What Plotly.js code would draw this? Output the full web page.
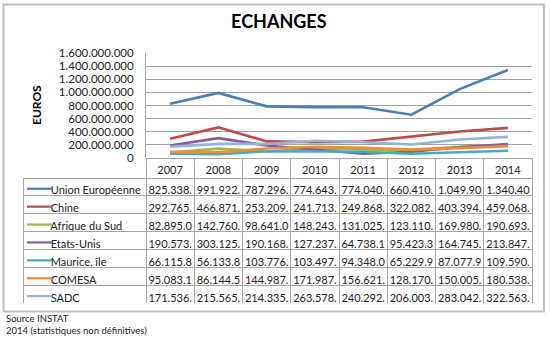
<!DOCTYPE html>
<html>
<head>
<meta charset="utf-8">
<script src="https://cdn.plot.ly/plotly-3.0.1.min.js"></script>
<style>
  html, body { margin: 0; padding: 0; background: #fff; }
  #chart { width: 550px; height: 340px; }
</style>
</head>
<body>
<div id="chart"></div>
<script>
// Categories
const years = ['2007', '2008', '2009', '2010', '2011', '2012', '2013', '2014'];

// Series names
const seriesNames = ['Union Européenne', 'Chine', 'Afrique du Sud', 'Etats-Unis', 'Maurice, île', 'COMESA', 'SADC'];

// Series values (euros)
const unionEuropeenne = [825338000, 991922000, 787296000, 774643000, 774040000, 660410000, 1049900000, 1340400000];
const chine           = [292765000, 466871000, 253209000, 241713000, 249868000, 322082000, 403394000, 459068000];
const afriqueDuSud    = [82895000, 142760000, 98641000, 148243000, 131025000, 123110000, 169980000, 190693000];
const etatsUnis       = [190573000, 303125000, 190168000, 127237000, 64738100, 95423300, 164745000, 213847000];
const maurice         = [66115800, 56133800, 103776000, 103497000, 94348000, 65229900, 87077900, 109590000];
const comesa          = [95083100, 86144500, 144987000, 171987000, 156621000, 128170000, 150005000, 180538000];
const sadc            = [171536000, 215565000, 214335000, 263578000, 240292000, 206003000, 283042000, 322563000];

const seriesValues = [unionEuropeenne, chine, afriqueDuSud, etatsUnis, maurice, comesa, sadc];
const seriesColors = ['#4A7EBB', '#BE4B48', '#98B954', '#7D60A0', '#46AAC5', '#F38A34', '#95B3D7'];

// Excel-like truncated display of numbers in table cells
function fmtCell(v) {
  const s = Math.round(v).toString().replace(/\B(?=(\d{3})+(?!\d))/g, '.');
  return s.slice(0, 8);
}

// Layout constants (pixels)
const W = 550, H = 340;
const M = { l: 23, r: 18, t: 53, b: 37 };
const PW = W - M.l - M.r, PH = H - M.t - M.b;
const headerH = 20, rowH = 17.9;
const tableTopPx = 158;
const px2x = px => (px - M.l) / PW;
const px2y = py => (H - M.b - py) / PH;

const traces = seriesValues.map((vals, i) => ({
  type: 'scatter',
  mode: 'lines',
  x: years,
  y: vals,
  name: seriesNames[i],
  line: { color: seriesColors[i], width: 2.6 },
  hoverinfo: 'skip',
  showlegend: false
}));

// Table: first column legend labels, then one column per year
const NB = '\u00A0';
const firstCol = seriesNames.map(n => NB.repeat(7) + n.split(' ').join(NB));
const yearCols = years.map((y, j) => seriesValues.map(vals => fmtCell(vals[j])));

traces.push({
  type: 'table',
  domain: { x: [0, 1], y: [0, px2y(tableTopPx)] },
  columnwidth: [123].concat(years.map(() => 48.25)),
  header: {
    values: [''].concat(years),
    height: headerH,
    align: 'center',
    line: { color: ['rgba(0,0,0,0)'].concat(years.map(() => '#A6A6A6')), width: 1 },
    fill: { color: 'rgba(0,0,0,0)' },
    font: { family: 'Lato, sans-serif', size: 11, color: '#222' }
  },
  cells: {
    values: [firstCol].concat(yearCols),
    height: rowH,
    align: ['left'].concat(years.map(() => 'center')),
    line: { color: '#A6A6A6', width: 1 },
    fill: { color: 'rgba(0,0,0,0)' },
    font: { family: 'Lato, sans-serif', size: 11, color: '#222' }
  }
});

// legend keys drawn inside the first table column
const legendShapes = seriesColors.map((c, i) => {
  const yc = tableTopPx + headerH + rowH * (i + 0.5) + 1.8;
  return {
    type: 'line', xref: 'paper', yref: 'paper',
    x0: px2x(27), x1: px2x(52), y0: px2y(yc), y1: px2y(yc),
    line: { color: c, width: 2.2 }
  };
});

const layout = {
  width: W,
  height: H,
  margin: { l: M.l, r: M.r, t: M.t, b: M.b, pad: 0 },
  paper_bgcolor: '#fff',
  plot_bgcolor: '#fff',
  separators: ',.',
  font: { family: 'Lato, sans-serif', color: '#222' },
  title: {
    text: '<b>ECHANGES</b>',
    font: { family: 'Lato, sans-serif', size: 18, color: '#000' },
    x: 0.507, xref: 'container', xanchor: 'center',
    y: 0.935, yref: 'container', yanchor: 'middle'
  },
  xaxis: {
    type: 'category',
    domain: [px2x(146), 1],
    range: [-0.5, 7.5],
    showticklabels: false,
    showgrid: false,
    zeroline: false,
    showline: false,
    ticks: '',
    fixedrange: true
  },
  yaxis: {
    domain: [px2y(tableTopPx), 1],
    range: [0, 1600000000],
    dtick: 200000000,
    tickformat: ',d',
    showgrid: true,
    gridcolor: '#A0A0A0',
    gridwidth: 1,
    zeroline: true,
    zerolinecolor: '#8C8C8C',
    zerolinewidth: 1,
    showline: true,
    linecolor: '#A0A0A0',
    linewidth: 1,
    ticks: '',
    ticklabelstandoff: 9,
    tickfont: { family: 'Lato, sans-serif', size: 11.5, color: '#222' },
    fixedrange: true
  },
  shapes: [{
    type: 'rect', xref: 'paper', yref: 'paper',
    x0: px2x(3.5), x1: px2x(544),
    y0: px2y(311.5), y1: px2y(4.5),
    line: { color: '#BFBFBF', width: 2 },
    fillcolor: 'rgba(0,0,0,0)',
    layer: 'below'
  }].concat(legendShapes),
  annotations: [
    {
      text: '<b>EUROS</b>', xref: 'paper', yref: 'paper',
      x: px2x(36), y: px2y(105),
      xanchor: 'center', yanchor: 'middle', textangle: -90,
      showarrow: false,
      font: { family: 'Lato, sans-serif', size: 12, color: '#000' }
    },
    {
      text: 'Source INSTAT', xref: 'paper', yref: 'paper',
      x: px2x(4), y: px2y(318),
      xanchor: 'left', yanchor: 'middle', showarrow: false,
      font: { family: 'Lato, sans-serif', size: 9.5, color: '#222' }
    },
    {
      text: '2014 (statistiques non définitives)', xref: 'paper', yref: 'paper',
      x: px2x(4), y: px2y(330),
      xanchor: 'left', yanchor: 'middle', showarrow: false,
      font: { family: 'Lato, sans-serif', size: 9.5, color: '#222' }
    }
  ]
};

Plotly.newPlot('chart', traces, layout, { displayModeBar: false, staticPlot: true });
</script>
</body>
</html>
